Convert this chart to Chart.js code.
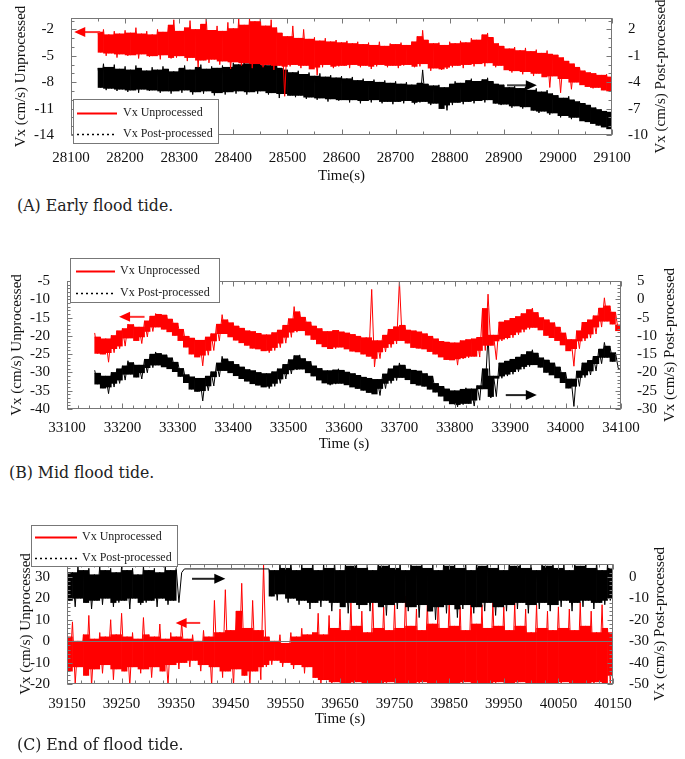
<!DOCTYPE html>
<html><head><meta charset="utf-8">
<script src="https://cdn.jsdelivr.net/npm/chart.js@4/dist/chart.umd.min.js"></script>
<style>
html,body{margin:0;padding:0;background:#fff;}
body{width:685px;height:759px;position:relative;overflow:hidden;}
.pane{position:absolute;left:0;width:685px;}
.cap{position:absolute;font-family:"DejaVu Serif Condensed","DejaVu Serif",serif;font-stretch:condensed;font-size:17.5px;line-height:20px;color:#222;white-space:nowrap;}
</style></head><body>
<div class="pane" style="top:0;height:190px"><canvas id="cA" width="685" height="190"></canvas></div>
<div class="cap" style="left:17px;top:195px">(A) Early flood tide.</div>
<div class="pane" style="top:240px;height:220px"><canvas id="cB" width="685" height="220"></canvas></div>
<div class="cap" style="left:9px;top:462px">(B) Mid flood tide.</div>
<div class="pane" style="top:490px;height:245px"><canvas id="cC" width="685" height="245"></canvas></div>
<div class="cap" style="left:17px;top:734px">(C) End of flood tide.</div>
<script>
// ---------------- DATA ----------------
// sampling times (s): each record holds the upper and lower excursion of the noisy trace
function seq(a,b,s){const r=[];for(let v=a;v<=b+1e-9;v+=s)r.push(v);return r;}
const timeA = seq(28150, 29100, 10);
const timeB = seq(33150, 34100, 10);
const timeC = seq(39150, 40150, 10);

// Panel A (left axis: unprocessed, right axis: post-processed), cm/s
const aRedHi = [-2.3,-2.0,-2.6,-2.2,-2.5,-2.1,-2.4,-1.8,-2.5,-2.2,
 -2.6,-2.0,-2.3,-1.5,-0.9,-2.2,-1.8,-1.0,-2.0,-1.4,
 -0.8,-2.1,-1.6,-2.2,-1.2,-1.9,-0.8,-1.5,-0.7,-1.1,
 -0.7,-1.6,-0.9,-1.8,-2.4,-2.8,-1.6,-3.0,-2.0,-3.1,
 -2.9,-3.3,-3.0,-3.4,-3.2,-3.5,-3.3,-3.6,-3.4,-3.7,
 -3.5,-3.8,-3.4,-3.9,-3.6,-3.7,-3.5,-3.8,-3.4,-2.8,
 -2.1,-3.2,-3.6,-3.5,-3.8,-3.4,-3.6,-3.3,-3.5,-3.0,
 -3.2,-2.6,-2.4,-2.9,-3.6,-3.9,-4.2,-4.0,-4.4,-4.1,
 -4.5,-4.3,-4.7,-4.4,-4.8,-4.9,-5.2,-5.6,-5.9,-6.3,
 -6.7,-6.9,-7.0,-7.2,-7.1,-7.4];
const aRedLo = [-4.6,-5.0,-4.7,-5.2,-4.8,-5.0,-4.9,-5.3,-4.8,-5.1,
 -5.0,-5.4,-4.9,-5.3,-5.2,-5.0,-5.6,-5.2,-6.3,-5.5,
 -5.8,-5.4,-6.0,-5.6,-6.5,-5.7,-6.1,-5.8,-6.4,-5.9,
 -6.3,-6.0,-6.6,-6.1,-9.6,-6.2,-6.0,-6.4,-6.1,-6.5,
 -7.2,-6.3,-6.0,-6.4,-6.2,-6.1,-6.4,-6.0,-6.3,-6.1,
 -6.5,-6.2,-6.0,-6.3,-6.1,-6.4,-6.1,-6.0,-6.3,-6.2,
 -5.9,-6.7,-6.4,-6.6,-6.5,-6.3,-6.1,-6.4,-6.0,-6.2,
 -5.9,-6.2,-5.8,-6.3,-6.1,-6.6,-6.9,-6.7,-7.1,-6.8,
 -7.3,-7.0,-7.4,-8.6,-7.3,-9.2,-7.6,-8.8,-8.0,-8.3,
 -8.5,-8.7,-8.6,-8.9,-9.0,-9.2];
const aBlkHi = [-2.4,-1.9,-2.3,-2.0,-2.5,-2.2,-2.6,-2.1,-2.4,-2.7,
 -2.3,-2.6,-2.2,-2.5,-2.8,-2.4,-2.1,-2.6,-2.3,-2.0,
 -2.5,-2.2,-2.4,-2.1,-2.3,-1.8,-2.0,-1.6,-1.9,-1.5,
 -1.8,-2.1,-1.7,-1.9,-2.4,-2.6,-2.9,-2.7,-3.1,-2.9,
 -3.3,-3.0,-3.4,-3.2,-3.5,-3.3,-3.6,-3.4,-3.8,-3.6,
 -3.9,-3.7,-4.0,-3.8,-4.1,-3.9,-4.2,-4.0,-4.3,-4.1,
 -2.6,-4.2,-4.4,-4.3,-4.6,-4.2,-3.9,-4.1,-3.8,-3.6,
 -3.9,-3.7,-3.5,-3.9,-4.2,-4.3,-4.6,-4.4,-4.7,-4.5,
 -4.9,-4.7,-5.1,-4.9,-5.3,-5.5,-5.8,-5.6,-6.0,-6.2,
 -6.4,-6.6,-6.9,-7.1,-7.3,-7.4];
const aBlkLo = [-4.6,-4.9,-4.7,-5.0,-4.8,-5.1,-4.9,-5.2,-4.8,-5.0,
 -4.9,-5.2,-5.0,-5.3,-5.0,-5.2,-4.9,-5.4,-5.1,-5.3,
 -5.0,-5.5,-5.2,-5.4,-5.1,-5.3,-5.0,-5.4,-5.1,-5.3,
 -5.0,-5.4,-5.2,-5.8,-5.3,-5.5,-5.7,-5.5,-5.9,-5.7,
 -6.0,-5.8,-6.2,-5.9,-6.1,-6.0,-6.3,-6.0,-6.4,-6.1,
 -6.3,-6.0,-6.4,-6.2,-6.5,-6.2,-6.4,-6.1,-6.5,-6.3,
 -6.2,-6.6,-6.4,-7.0,-7.2,-6.6,-6.3,-6.5,-6.2,-6.4,
 -6.1,-6.3,-6.0,-6.4,-6.6,-6.5,-6.9,-6.7,-7.0,-6.8,
 -7.2,-7.5,-7.3,-7.7,-7.5,-8.0,-7.8,-8.2,-8.0,-8.4,
 -8.5,-8.7,-8.9,-9.1,-9.3,-9.5];

// Panel B
const bRedHi = [-19.2,-20.3,-20.8,-19.9,-18.6,-18.0,-16.8,-16.9,-17.6,-15.9,
 -14.6,-13.9,-14.1,-14.3,-15.4,-16.5,-18.2,-20.1,-20.6,-21.2,
 -20.3,-19.4,-16.8,-14.2,-15.6,-16.4,-17.3,-17.9,-18.6,-18.8,
 -19.3,-19.7,-19.1,-18.4,-17.1,-15.3,-12.0,-13.4,-14.9,-16.2,
 -17.3,-18.0,-18.8,-18.5,-18.4,-18.9,-19.2,-19.6,-20.1,-20.5,
 -7.3,-21.3,-19.8,-18.2,-17.5,-5.0,-17.1,-18.4,-18.6,-18.9,
 -19.4,-20.1,-20.8,-21.5,-21.7,-21.9,-21.3,-21.0,-20.8,-20.4,
 -12.5,-8.6,-19.8,-16.2,-15.8,-15.2,-14.7,-13.9,-12.8,-12.4,
 -13.6,-15.0,-15.6,-16.4,-17.6,-19.2,-21.0,-18.6,-16.3,-15.6,
 -14.5,-12.4,-9.6,-11.8,-13.5,-17.0];
const bRedLo = [-24.8,-25.0,-27.2,-24.6,-23.5,-22.8,-20.6,-21.3,-22.1,-20.3,
 -18.8,-17.6,-18.2,-18.9,-19.9,-21.3,-23.1,-25.0,-25.8,-28.2,
 -25.3,-24.0,-21.4,-19.4,-20.3,-21.2,-21.9,-22.6,-23.4,-23.6,
 -24.1,-24.6,-24.0,-23.2,-22.0,-20.4,-19.0,-18.6,-19.8,-21.0,
 -22.2,-23.0,-23.6,-23.5,-23.1,-23.6,-24.2,-24.4,-25.0,-25.6,
 -28.5,-26.2,-24.4,-23.2,-22.2,-21.3,-22.0,-23.2,-23.4,-23.6,
 -24.3,-25.0,-25.8,-26.5,-26.6,-28.0,-26.3,-26.0,-25.6,-25.8,
 -24.0,-22.6,-26.5,-21.4,-20.9,-20.5,-19.7,-19.0,-18.2,-17.7,
 -18.4,-19.9,-20.5,-21.3,-22.5,-24.1,-28.3,-23.5,-21.4,-20.6,
 -19.5,-17.6,-16.0,-16.8,-18.6,-25.0];
const bBlkHi = [-19.4,-20.2,-21.0,-20.0,-19.0,-18.2,-16.8,-17.3,-18.0,-16.4,
 -15.0,-14.4,-14.8,-15.2,-16.0,-17.2,-18.9,-20.6,-21.2,-21.6,
 -21.0,-19.8,-17.4,-15.6,-16.3,-17.0,-17.8,-18.5,-19.2,-19.5,
 -20.0,-20.3,-19.8,-19.0,-17.8,-16.5,-15.4,-15.2,-16.2,-17.0,
 -18.2,-18.9,-19.5,-19.3,-19.0,-19.4,-19.9,-20.3,-20.8,-21.3,
 -21.6,-21.9,-20.4,-19.0,-18.2,-17.4,-18.0,-19.1,-19.4,-19.6,
 -20.3,-21.0,-23.0,-23.8,-24.5,-25.0,-24.6,-24.2,-24.5,-23.6,
 -19.0,-9.8,-21.0,-17.4,-16.9,-16.4,-15.8,-15.1,-14.3,-13.8,
 -14.7,-16.0,-16.6,-17.4,-18.5,-20.0,-21.8,-19.6,-17.4,-16.7,
 -15.6,-13.6,-11.8,-12.8,-14.6,-19.2];
const bBlkLo = [-23.2,-24.3,-25.8,-24.0,-23.0,-22.1,-20.5,-21.3,-21.8,-20.1,
 -18.7,-18.0,-18.5,-19.0,-19.8,-21.1,-22.8,-24.6,-25.2,-27.8,
 -25.0,-23.7,-21.2,-19.5,-20.1,-20.9,-21.7,-22.4,-23.1,-23.5,
 -24.0,-24.4,-23.8,-23.0,-21.8,-20.4,-19.3,-19.1,-20.1,-21.0,
 -22.1,-22.9,-23.5,-23.2,-23.0,-23.4,-24.0,-24.4,-24.9,-25.5,
 -25.9,-26.3,-24.4,-23.0,-22.2,-21.4,-22.0,-23.1,-23.5,-23.8,
 -24.6,-25.4,-26.5,-27.8,-28.6,-29.4,-28.8,-28.5,-29.2,-27.6,
 -24.5,-27.0,-26.6,-21.6,-21.0,-20.5,-19.8,-19.1,-18.4,-17.9,
 -18.6,-20.0,-20.7,-21.5,-22.8,-24.3,-29.3,-23.8,-21.4,-20.7,
 -19.6,-17.6,-15.9,-17.0,-18.9,-25.0];

// Panel C
const cRedHi = [2,9,0,3,12,1,4,2,10,3,
 13,2,4,1,11,3,2,8,1,4,
 2,9,1,3,0,5,2,19,4,24,
 5,14,27,6,19,5,36,2,0,3,
 -1,4,2,6,3,4,13,3,12,6,
 15,5,18,7,14,4,20,6,16,5,
 17,6,21,7,15,5,18,8,20,6,
 19,7,16,5,21,8,17,6,19,7,
 16,5,18,7,15,4,17,6,14,5,
 16,6,15,5,18,7,14,4,17,6,
 4];
const cRedLo = [-14,-20,-12,-16,-21,-13,-15,-11,-18,-13,
 -14,-21,-12,-15,-13,-17,-12,-14,-21,-11,
 -13,-10,-12,-9,-14,-11,-21,-12,-17,-14,
 -21,-13,-16,-21,-14,-18,-12,-11,-9,-12,
 -10,-13,-11,-15,-12,-17,-21,-18,-22,-19,
 -22,-20,-24,-19,-23,-21,-24,-20,-22,-19,
 -23,-20,-24,-21,-22,-19,-24,-20,-23,-21,
 -24,-20,-22,-19,-23,-21,-24,-20,-22,-19,
 -23,-21,-24,-19,-22,-20,-24,-21,-23,-20,
 -22,-19,-24,-20,-23,-21,-22,-19,-24,-20,
 -16];
const cBlkHi = [4,2,5,3,4,1,5,3,4,2,
 5,3,4,1,5,3,4,2,5,3,
 4,2,null,null,null,null,null,null,null,null,
 null,null,null,null,null,null,null,3.7,3,6,
 4,7,3,6,4,7,3,6,4,7,
 3,6,5,7,4,6,3,7,5,6,
 4,7,3,6,5,7,4,6,3,7,
 5,6,4,7,3,6,5,7,4,6,
 3,7,5,6,4,7,3,6,5,7,
 4,6,3,7,5,6,4,7,3,6,
 4];
const cBlkLo = [-11,-14,-10,-12,-15,-11,-13,-10,-14,-12,
 -11,-15,-10,-13,-12,-11,-14,-10,-13,-11,
 -12,3.7,null,null,null,null,null,null,null,null,
 null,null,null,null,null,null,null,-9,-11,-8,
 -12,-10,-13,-11,-15,-12,-14,-11,-16,-12,
 -14,-17,-12,-15,-13,-16,-12,-14,-18,-13,
 -15,-12,-16,-14,-19,-13,-16,-20,-14,-17,
 -13,-19,-15,-13,-17,-14,-16,-12,-18,-14,
 -16,-13,-15,-12,-17,-13,-15,-12,-16,-13,
 -14,-11,-16,-12,-14,-11,-15,-12,-13,-11,
 -10];

// tick labels
const xTicksA = [28100,28200,28300,28400,28500,28600,28700,28800,28900,29000,29100];
const yLTicksA = [-14,-11,-8,-5,-2];
const yRTicksA = [-10,-7,-4,-1,2];
const xTicksB = [33100,33200,33300,33400,33500,33600,33700,33800,33900,34000,34100];
const yLTicksB = [-40,-35,-30,-25,-20,-15,-10,-5];
const yRTicksB = [-30,-25,-20,-15,-10,-5,0,5];
const xTicksC = [39150,39250,39350,39450,39550,39650,39750,39850,39950,40050,40150];
const yLTicksC = [-20,-10,0,10,20,30];
const yRTicksC = [-50,-40,-30,-20,-10,0];

const seriesNames = ['Vx Unprocessed','Vx Post-processed'];
const leftTitle = 'Vx (cm/s) Unprocessed';
const rightTitle = 'Vx (cm/s) Post-processed';

// ---------------- RENDERING ----------------
function trace(times, hi, lo){   // zig-zag through upper / lower excursions
  const pts = [];
  times.forEach((t,i)=>{
    if (hi[i] != null) pts.push({x:t, y:hi[i]});
    if (lo[i] != null) pts.push({x:t+5, y:lo[i]});
  });
  return pts;
}
function core(times, hi, lo){    // range shared by consecutive records (dense part of the trace)
  const n = times.length;
  return times.map((t,i)=>{
    if (hi[i]==null || lo[i]==null) return {x:t+5, y:null};
    let h = hi[i], l = lo[i];
    const j = i+1;
    if (j<n && hi[j]!=null && lo[j]!=null){ h=Math.min(h,hi[j]); l=Math.max(l,lo[j]); }
    return {x:t+5, y:(l<h)?[l,h]:null};
  });
}

const FONT = '"Liberation Serif","Times New Roman",serif';
Chart.defaults.font.family = FONT;
Chart.defaults.font.size = 15;
Chart.defaults.color = '#111';

const framePlugin = {
  id:'frame',
  afterDatasetsDraw(chart, args, o){
    const {ctx, chartArea:a, scales} = chart;
    ctx.save();
    ctx.strokeStyle = o.color; ctx.lineWidth = 1;
    const L=a.left+0.5, R=a.right-0.5, T=a.top+0.5, B=a.bottom-0.5;
    if (o.zeroLine){
      const y = Math.round(scales.yL.getPixelForValue(0))+0.5;
      ctx.beginPath(); ctx.moveTo(L,y); ctx.lineTo(R,y); ctx.stroke();
    }
    ctx.strokeRect(L,T,R-L,B-T);
    ctx.beginPath();
    const xs = scales.x;
    const drawX = (v,len)=>{ const x=Math.round(xs.getPixelForValue(v))+0.5;
      ctx.moveTo(x,B); ctx.lineTo(x,B-len); ctx.moveTo(x,T); ctx.lineTo(x,T+len); };
    for (let v=xs.min; v<=xs.max+1e-6; v+=o.xMinor) drawX(v,3);
    xs.ticks.forEach(t=>drawX(t.value,5));
    const drawY = (sc,v,len,left)=>{ const y=Math.round(sc.getPixelForValue(v))+0.5;
      if(left){ctx.moveTo(L,y); ctx.lineTo(L+len,y);} else {ctx.moveTo(R,y); ctx.lineTo(R-len,y);} };
    const yl = scales.yL, yr = scales.yR;
    for (let v=yl.ticks[0].value; v<=yl.max+1e-6; v+=o.yMinor) drawY(yl,v,3,true);
    yl.ticks.forEach(t=>drawY(yl,t.value,5,true));
    for (let v=yr.ticks[0].value; v<=yr.max+1e-6; v+=o.yMinor) drawY(yr,v,3,false);
    yr.ticks.forEach(t=>drawY(yr,t.value,5,false));
    ctx.stroke();
    (o.arrows||[]).forEach(ar=>{
      const sc = scales[ar.axis];
      const y = sc.getPixelForValue(ar.y);
      const x0 = xs.getPixelForValue(ar.from), x1 = xs.getPixelForValue(ar.to);
      const dir = Math.sign(x1-x0);
      ctx.strokeStyle = ar.shaft; ctx.lineWidth = 2;
      ctx.beginPath(); ctx.moveTo(x0,y); ctx.lineTo(x1-dir*9,y); ctx.stroke();
      ctx.fillStyle = ar.head;
      ctx.beginPath(); ctx.moveTo(x1,y); ctx.lineTo(x1-dir*11,y-5); ctx.lineTo(x1-dir*11,y+5); ctx.closePath(); ctx.fill();
    });
    ctx.restore();
  },
  afterDraw(chart, args, o){
    const {ctx, chartArea:a} = chart;
    ctx.save();
    ctx.font = '15px '+FONT; ctx.fillStyle='#111';
    ctx.translate(o.rightTitleX, (a.top+a.bottom)/2);
    ctx.rotate(-Math.PI/2);
    ctx.textAlign='center'; ctx.textBaseline='middle';
    ctx.fillText(rightTitle,0,0);
    ctx.restore();
    const lg = o.legend;
    ctx.save();
    ctx.fillStyle='#fff'; ctx.fillRect(lg.x,lg.y,lg.w,lg.h);
    ctx.strokeStyle='#777'; ctx.lineWidth=1; ctx.strokeRect(lg.x+0.5,lg.y+0.5,lg.w,lg.h);
    ctx.font='12px '+FONT; ctx.textBaseline='middle'; ctx.textAlign='left';
    chart.data.datasets.filter(ds=>ds.type==='line').forEach((ds,i)=>{
      const ry = lg.rows[i];
      ctx.strokeStyle = ds.borderColor; ctx.lineWidth = i===0?2:1.5;
      ctx.setLineDash(i===0?[]:[2,3]);
      ctx.beginPath(); ctx.moveTo(lg.lx0,ry+0.5); ctx.lineTo(lg.lx1,ry+0.5); ctx.stroke();
      ctx.setLineDash([]);
      ctx.fillStyle='#222'; ctx.fillText(ds.label, lg.tx, ry);
    });
    ctx.restore();
  }
};

function makeChart(id, p){
  const W = 685;
  const common = {pointRadius:0, tension:0, spanGaps:true, borderJoinStyle:'bevel', borderWidth:p.lw};
  const barCommon = {grouped:false, barPercentage:1, categoryPercentage:1, borderWidth:0};
  return new Chart(document.getElementById(id), {
    type:'line',
    data:{ datasets:[
      Object.assign({type:'line', label:seriesNames[0], data:trace(p.times,p.redHi,p.redLo), borderColor:'#ff0000', yAxisID:'yL', order:p.redOrder}, common),
      Object.assign({type:'line', label:seriesNames[1], data:trace(p.times,p.blkHi,p.blkLo), borderColor:'#000000', yAxisID:'yR', order:p.blkOrder}, common),
      Object.assign({type:'bar', label:seriesNames[0], data:core(p.times,p.redHi,p.redLo), backgroundColor:'#ff0000', yAxisID:'yL', order:p.redOrder+0.5}, barCommon),
      Object.assign({type:'bar', label:seriesNames[1], data:core(p.times,p.blkHi,p.blkLo), backgroundColor:'#000000', yAxisID:'yR', order:p.blkOrder+0.5}, barCommon)
    ]},
    options:{
      responsive:false, animation:false, devicePixelRatio:1,
      layout:{padding:{top:p.top,left:0,right:0,bottom:0}},
      plugins:{legend:{display:false}, tooltip:{enabled:false},
        frame:{color:'#777', xMinor:p.xMinor, yMinor:p.yMinor, zeroLine:p.zeroLine, arrows:p.arrows,
               rightTitleX:p.rightTitleX, legend:p.legend}},
      scales:{
        x:{type:'linear', position:'bottom', offset:false, min:p.xTicks[0], max:p.xTicks[p.xTicks.length-1],
           afterBuildTicks:s=>{s.ticks=p.xTicks.map(v=>({value:v}));},
           afterFit:s=>{s.height=p.xH;},
           grid:{display:false}, border:{display:false},
           ticks:{padding:p.xPad, autoSkip:false, maxRotation:0, callback:v=>String(v)},
           title:{display:true, text:p.xTitle, font:{size:15}, padding:{top:0,bottom:p.xTitlePad}}},
        yL:{type:'linear', position:'left', min:p.yLMin, max:p.yLMax,
           afterBuildTicks:s=>{s.ticks=p.yLTicks.map(v=>({value:v}));},
           afterFit:s=>{s.width=p.left;},
           grid:{display:false}, border:{display:false},
           ticks:{padding:9, autoSkip:false, callback:v=>String(v)},
           title:{display:true, text:leftTitle, font:{size:15}, padding:{top:p.yTitlePad,bottom:0}}},
        yR:{type:'linear', position:'right', min:p.yRMin, max:p.yRMax,
           afterBuildTicks:s=>{s.ticks=p.yRTicks.map(v=>({value:v}));},
           afterFit:s=>{s.width=W-p.right;},
           grid:{display:false}, border:{display:false},
           ticks:{padding:8, autoSkip:false, callback:v=>String(v)}}
      }
    },
    plugins:[framePlugin]
  });
}

makeChart('cA', {
  times:timeA, redHi:aRedHi, redLo:aRedLo, blkHi:aBlkHi, blkLo:aBlkLo, redOrder:0, blkOrder:2, lw:1,
  xTicks:xTicksA, yLTicks:yLTicksA, yRTicks:yRTicksA,
  yLMin:-14, yLMax:-0.7, yRMin:-10, yRMax:3.3,
  top:7, left:71, right:612, xH:55, xPad:6, xTitle:'Time(s)', xTitlePad:5, yTitlePad:12,
  xMinor:50, yMinor:1, rightTitleX:661,
  arrows:[{axis:'yL', from:28154, to:28106, y:-2.3, shaft:'#ff3333', head:'#ff0000'},
          {axis:'yR', from:28906, to:28961, y:-4.35, shaft:'#444', head:'#000'}],
  legend:{x:73,y:99,w:145,h:44, rows:[113,134], lx0:77, lx1:117, tx:123}
});
makeChart('cB', {
  times:timeB, redHi:bRedHi, redLo:bRedLo, blkHi:bBlkHi, blkLo:bBlkLo, redOrder:0, blkOrder:2, lw:1,
  xTicks:xTicksB, yLTicks:yLTicksB, yRTicks:yRTicksB,
  yLMin:-40, yLMax:-5, yRMin:-30, yRMax:5,
  top:41, left:67, right:621, xH:51, xPad:2, xTitle:'Time (s)', xTitlePad:7, yTitlePad:8,
  xMinor:20, yMinor:1, rightTitleX:670,
  arrows:[{axis:'yL', from:33240, to:33194, y:-14.8, shaft:'#ff3333', head:'#ff0000'},
          {axis:'yR', from:33892, to:33948, y:-26.2, shaft:'#222', head:'#000'}],
  legend:{x:70,y:18,w:149,h:44, rows:[31,53], lx0:76, lx1:115, tx:120}
});
makeChart('cC', {
  times:timeC, redHi:cRedHi, redLo:cRedLo, blkHi:cBlkHi, blkLo:cBlkLo, redOrder:2, blkOrder:0, lw:1,
  xTicks:xTicksC, yLTicks:yLTicksC, yRTicks:yRTicksC,
  yLMin:-20, yLMax:36, yRMin:-50, yRMax:6,
  top:74, left:67, right:613, xH:51, xPad:3, xTitle:'Time (s)', xTitlePad:7, yTitlePad:17,
  xMinor:25, yMinor:2, rightTitleX:660, zeroLine:true,
  arrows:[{axis:'yL', from:39394, to:39349, y:8.5, shaft:'#ff3333', head:'#ff0000'},
          {axis:'yR', from:39379, to:39440, y:-0.9, shaft:'#222', head:'#000'}],
  legend:{x:31,y:35,w:146,h:41, rows:[47,68], lx0:35, lx1:77, tx:82}
});
</script>
</body></html>
